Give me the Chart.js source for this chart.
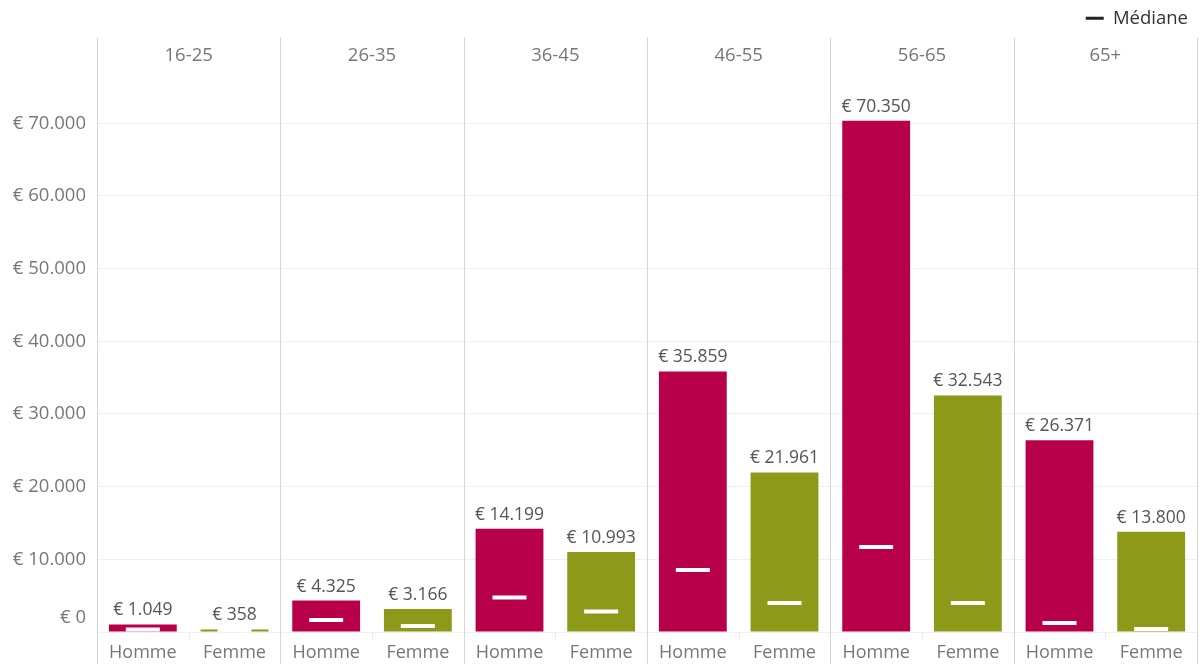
<!DOCTYPE html>
<html>
<head>
<meta charset="utf-8">
<script src="https://cdn.jsdelivr.net/npm/chart.js@4.4.0/dist/chart.umd.min.js"></script>
<style>
  html, body { margin: 0; padding: 0; background: #fff; }
  #wrap { width: 1202px; height: 664px; }
</style>
</head>
<body>
<div id="wrap"><canvas id="chart-canvas"></canvas></div>
<script>
const groups = ['16-25', '26-35', '36-45', '46-55', '56-65', '65+'];
const genders = ['Homme', 'Femme'];
const moyenneHomme = [1049, 4325, 14199, 35859, 70350, 26371];
const moyenneFemme = [358, 3166, 10993, 21961, 32543, 13800];
const medianeHomme = [350, 1650, 4750, 8530, 11690, 1240];
const medianeFemme = [250, 830, 2820, 3990, 3990, 400];
const yTicks = [0, 10000, 20000, 30000, 40000, 50000, 60000, 70000];

const colorHomme = '#b8004a';
const colorFemme = '#8c9919';
const fontFamily = '"Open Sans", "Noto Sans", sans-serif';

function euro(n) {
    return '€ ' + String(n).replace(/\B(?=(\d{3})+(?!\d))/g, '.');
}

// one category per (groupe, genre)
const labels = [];
const moyennes = [];
const medianes = [];
const barColors = [];
groups.forEach((g, i) => {
    labels.push(genders[0], genders[1]);
    moyennes.push(moyenneHomme[i], moyenneFemme[i]);
    medianes.push(medianeHomme[i], medianeFemme[i]);
    barColors.push(colorHomme, colorFemme);
});

// separators between age groups, group headers and value labels
const panelsPlugin = {
    id: 'panels',
    beforeDatasetsDraw(chart) {
        const ctx = chart.ctx;
        const xs = chart.scales.x;
        const area = chart.chartArea;
        const step = (xs.right - xs.left) / labels.length;
        ctx.save();
        ctx.lineWidth = 1;
        ctx.strokeStyle = '#d6d6d6';
        for (let g = 0; g <= groups.length; g++) {
            const x = Math.round(xs.left + g * 2 * step) + 0.5;
            ctx.beginPath();
            ctx.moveTo(x, area.top);
            ctx.lineTo(x, chart.height);
            ctx.stroke();
        }
        ctx.strokeStyle = '#ececec';
        for (let g = 0; g < groups.length; g++) {
            const x = Math.round(xs.left + (2 * g + 1) * step) + 0.5;
            ctx.beginPath();
            ctx.moveTo(x, area.bottom);
            ctx.lineTo(x, area.bottom + 8);
            ctx.stroke();
        }
        ctx.restore();
    },
    afterDraw(chart) {
        const ctx = chart.ctx;
        const xs = chart.scales.x;
        const area = chart.chartArea;
        ctx.save();
        ctx.textAlign = 'center';
        ctx.textBaseline = 'middle';
        ctx.font = '18.5px ' + fontFamily;
        ctx.fillStyle = '#777';
        groups.forEach((g, i) => {
            const x = (xs.getPixelForValue(2 * i) + xs.getPixelForValue(2 * i + 1)) / 2;
            ctx.fillText(g, x, area.top + 18);
        });
        ctx.fillStyle = '#555';
        ctx.font = '17.5px ' + fontFamily;
        const meta = chart.getDatasetMeta(0);
        meta.data.forEach((bar, i) => {
            ctx.fillText(euro(moyennes[i]), bar.x, bar.y - 14);
        });
        ctx.restore();
    }
};

const config = {
    type: 'bar',
    data: {
        labels: labels,
        datasets: [{
            label: 'Moyenne',
            data: moyennes,
            backgroundColor: barColors,
            borderWidth: 0,
            categoryPercentage: 1,
            barPercentage: 0.74,
            order: 2
        }, {
            type: 'line',
            label: 'Médiane',
            data: medianes,
            showLine: false,
            pointStyle: 'line',
            pointRadius: 17,
            pointHoverRadius: 17,
            pointBorderWidth: 4,
            pointHoverBorderWidth: 4,
            pointBorderColor: '#ffffff',
            pointBackgroundColor: '#ffffff',
            order: 1
        }]
    },
    plugins: [panelsPlugin],
    options: {
        responsive: true,
        maintainAspectRatio: false,
        animation: false,
        layout: { autoPadding: false, padding: { left: 0, right: 5, top: 0, bottom: 0 } },
        plugins: {
            tooltip: { enabled: false },
            legend: {
                position: 'top',
                align: 'end',
                labels: {
                    font: { size: 18.5, family: fontFamily },
                    color: '#333',
                    boxWidth: 18,
                    boxHeight: 3,
                    padding: 9,
                    generateLabels: () => [{
                        text: 'Médiane',
                        fillStyle: '#222',
                        strokeStyle: '#222',
                        lineWidth: 0,
                        hidden: false,
                        datasetIndex: 1,
                        fontColor: '#333'
                    }]
                }
            }
        },
        scales: {
            x: {
                grid: { display: false, drawTicks: false },
                border: { display: false },
                ticks: {
                    font: { size: 18, family: fontFamily },
                    color: '#777',
                    padding: 10,
                    maxRotation: 0,
                    autoSkip: false
                },
                afterFit: (scale) => {
                    scale.height = 32;
                    scale.paddingLeft = 0;
                    scale.paddingRight = 0;
                }
            },
            y: {
                min: 0,
                max: 81800,
                afterBuildTicks: (scale) => {
                    scale.ticks = yTicks.map(v => ({ value: v }));
                },
                grid: { color: '#f0f0f0', drawTicks: false },
                border: { display: false },
                ticks: {
                    font: { size: 18.5, family: fontFamily, lineHeight: 1.5 },
                    color: '#777',
                    padding: 11,
                    callback: (v) => v === 0 ? [euro(v), ''] : euro(v)
                },
                afterFit: (scale) => {
                    scale.width = 97;
                    scale.paddingTop = 0;
                    scale.paddingBottom = 0;
                }
            }
        }
    }
};

let myChart = new Chart(document.getElementById('chart-canvas'), config);
</script>
</body>
</html>
